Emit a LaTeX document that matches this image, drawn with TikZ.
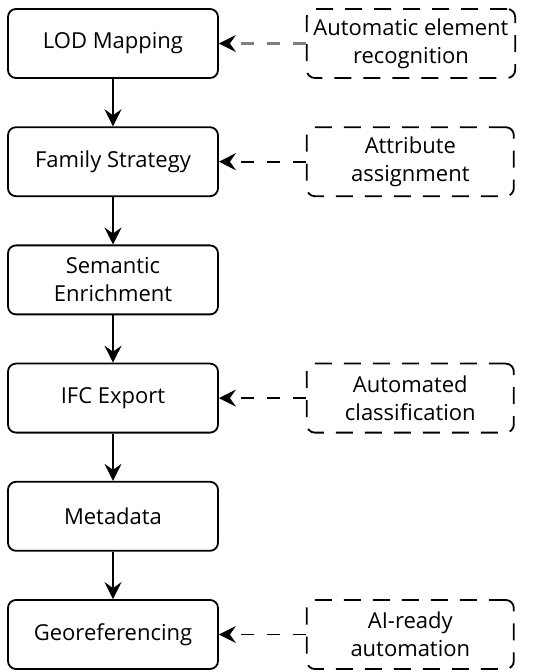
\documentclass[tikz,border=0pt]{standalone}
\usepackage{fontspec}
\setmainfont{Open Sans}
\usetikzlibrary{positioning,arrows.meta}

\tikzset{
  stage/.style={draw, rounded corners=4pt, minimum width=105pt, minimum height=34.5pt,
    align=center, line width=0.9pt, font=\fontsize{11}{14}\selectfont},
  helper/.style={stage, minimum width=103.5pt, dash pattern=on 8.5pt off 6pt},
  flow/.style={-{Stealth[length=8.5pt,width=8.5pt,inset=3pt]}, line width=0.9pt},
  hint/.style={flow, dash pattern=on 6.5pt off 6.5pt}
}

\begin{document}
\begin{tikzpicture}[node distance=23.7pt and 43.5pt]
\useasboundingbox (0,0) rectangle (275pt,-336pt);
% main chain
\node[stage] (lod) at (56.5pt,-21.75pt) {LOD Mapping};
\node[stage, below=of lod] (family) {Family Strategy};
\node[stage, below=of family] (semantic) {Semantic\\Enrichment};
\node[stage, below=of semantic] (ifc) {IFC Export};
\node[stage, below=of ifc] (meta) {Metadata};
\node[stage, below=of meta] (geo) {Georeferencing};
% side notes
\node[helper, right=of lod] (recog) {Automatic element\\recognition};
\node[helper, right=of family] (attrib) {Attribute\\assignment};
\node[helper, right=of ifc] (classif) {Automated\\classification};
\node[helper, right=of geo] (aiready) {AI-ready\\automation};
% arrows
\draw[flow] (lod) -- (family);
\draw[flow] (family) -- (semantic);
\draw[flow] (semantic) -- (ifc);
\draw[flow] (ifc) -- (meta);
\draw[flow] (meta) -- (geo);
\draw[hint, draw=gray, -{Stealth[length=8.5pt,width=8.5pt,inset=3pt,black]}, line width=1.1pt] (recog) -- (lod);
\draw[hint] (attrib) -- (family);
\draw[hint] (classif) -- (ifc);
\draw[hint] (aiready) -- (geo);
\end{tikzpicture}
\end{document}
